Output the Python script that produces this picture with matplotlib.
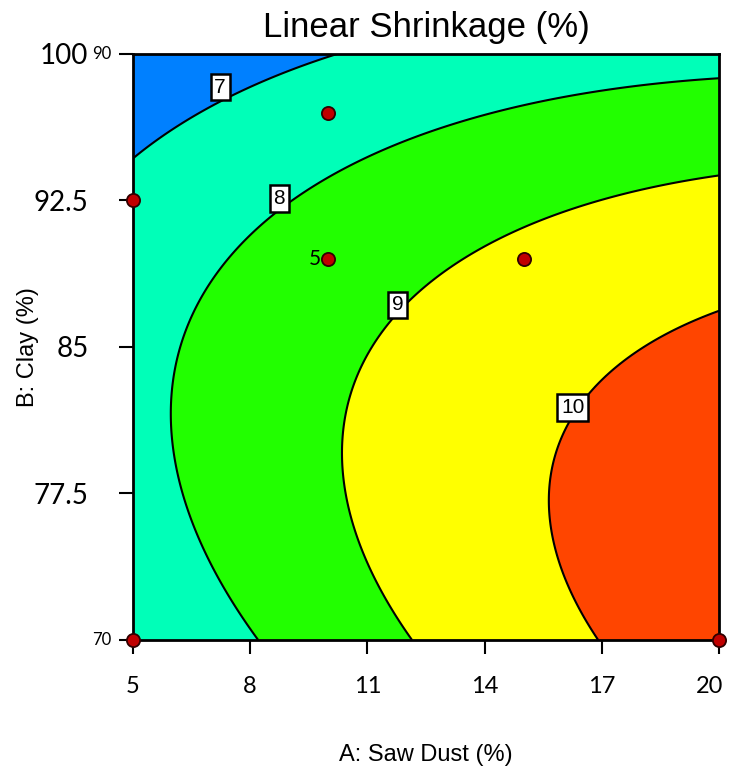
import numpy as np
import matplotlib.pyplot as plt
import matplotlib.transforms as mtransforms

plt.rcParams['font.family'] = ['Liberation Sans', 'DejaVu Sans']

# Factor ranges
saw_dust_range = (5, 20)
clay_range = (70, 100)

# Coded quadratic model: Intercept, A, B, AB, A^2, B^2
coef_names = ["Intercept", "A", "B", "AB", "A^2", "B^2"]
coef_values = [9.238, 1.237, -0.915, -0.491, -0.285, -1.07]

# Contour levels and fill colours
levels = [7, 8, 9, 10]
fill_colors = ["#0080FF", "#00FFB8", "#22FF00", "#FFFF00", "#FF4500"]

# Design points
pts_saw_dust = [5, 20, 5, 10, 10, 15]
pts_clay = [70, 70, 92.5, 97, 89.5, 89.5]
pts_reps = [1, 1, 1, 1, 5, 1]

# Where the contour labels sit (one per level)
label_x = [7.23, 8.74, 11.78, 16.26]
label_y = [98.3, 92.6, 87.15, 81.9]

x_ticks = [5, 8, 11, 14, 17, 20]
y_ticks = [70, 77.5, 85, 92.5, 100]
y_tick_labels = ["", "77.5", "85", "92.5", "100"]


def predict(x, y):
    a = (x - 12.5) / 7.5
    b = (y - 85) / 15
    c = dict(zip(coef_names, coef_values))
    return (c["Intercept"] + c["A"] * a + c["B"] * b + c["AB"] * a * b
            + c["A^2"] * a ** 2 + c["B^2"] * b ** 2)


xg = np.linspace(*saw_dust_range, 300)
yg = np.linspace(*clay_range, 300)
X, Y = np.meshgrid(xg, yg)
Z = predict(X, Y)

fig = plt.figure(figsize=(7.29, 7.67), dpi=100)
ax = fig.add_axes([0.1824, 0.1656, 0.8039, 0.764])

bounds = [Z.min() - 1] + levels + [Z.max() + 1]
ax.contourf(X, Y, Z, levels=bounds, colors=fill_colors)
ax.contour(X, Y, Z, levels=levels, colors="black", linewidths=1.5)

# boxed level labels
for lx, ly, lev in zip(label_x, label_y, levels):
    ax.text(lx, ly, str(lev), ha="center", va="center", fontsize=15, zorder=5,
            bbox=dict(boxstyle="square,pad=0.18", facecolor="white",
                      edgecolor="black", linewidth=1.8))

ax.plot(pts_saw_dust, pts_clay, "o", color="#C00000", markeredgecolor="#300000",
        markeredgewidth=1.3, markersize=9.5, clip_on=False, zorder=6)
for x, y, n in zip(pts_saw_dust, pts_clay, pts_reps):
    if n > 1:
        ax.text(x - 0.2, y, str(n), ha="right", va="center", fontsize=15,
                family="Lato", zorder=6)

ax.set_xlim(*saw_dust_range)
ax.set_ylim(*clay_range)
ax.set_xticks(x_ticks)
ax.set_yticks(y_ticks)
ax.set_xticklabels([str(v) for v in x_ticks], family="Lato", fontsize=17)
ax.set_yticklabels(y_tick_labels, family="Lato", fontsize=20)
ax.tick_params(direction="out", length=10, width=1.5)
ax.tick_params(axis="x", pad=16)
ax.tick_params(axis="y", pad=22)

# last x label is pulled in so it stays on the canvas
last = ax.get_xticklabels()[-1]
last.set_transform(last.get_transform()
                   + mtransforms.ScaledTranslation(-7 / 72, 0, fig.dpi_scale_trans))

# small range labels next to the y ticks
ytr = ax.get_yaxis_transform()
ax.text(-0.036, 70, "70", transform=ytr, ha="right", va="center", fontsize=12,
        family="Lato")
ax.text(-0.036, 100, "90", transform=ytr, ha="right", va="center", fontsize=12,
        family="Lato")

for s in ax.spines.values():
    s.set_linewidth(2)

ax.set_title("Linear Shrinkage (%)", fontsize=25, pad=12)
ax.set_xlabel("A: Saw Dust (%)", fontsize=17, labelpad=34)
ax.set_ylabel("B: Clay (%)", fontsize=17, labelpad=-4)

fig.savefig("out.png", dpi=100)
